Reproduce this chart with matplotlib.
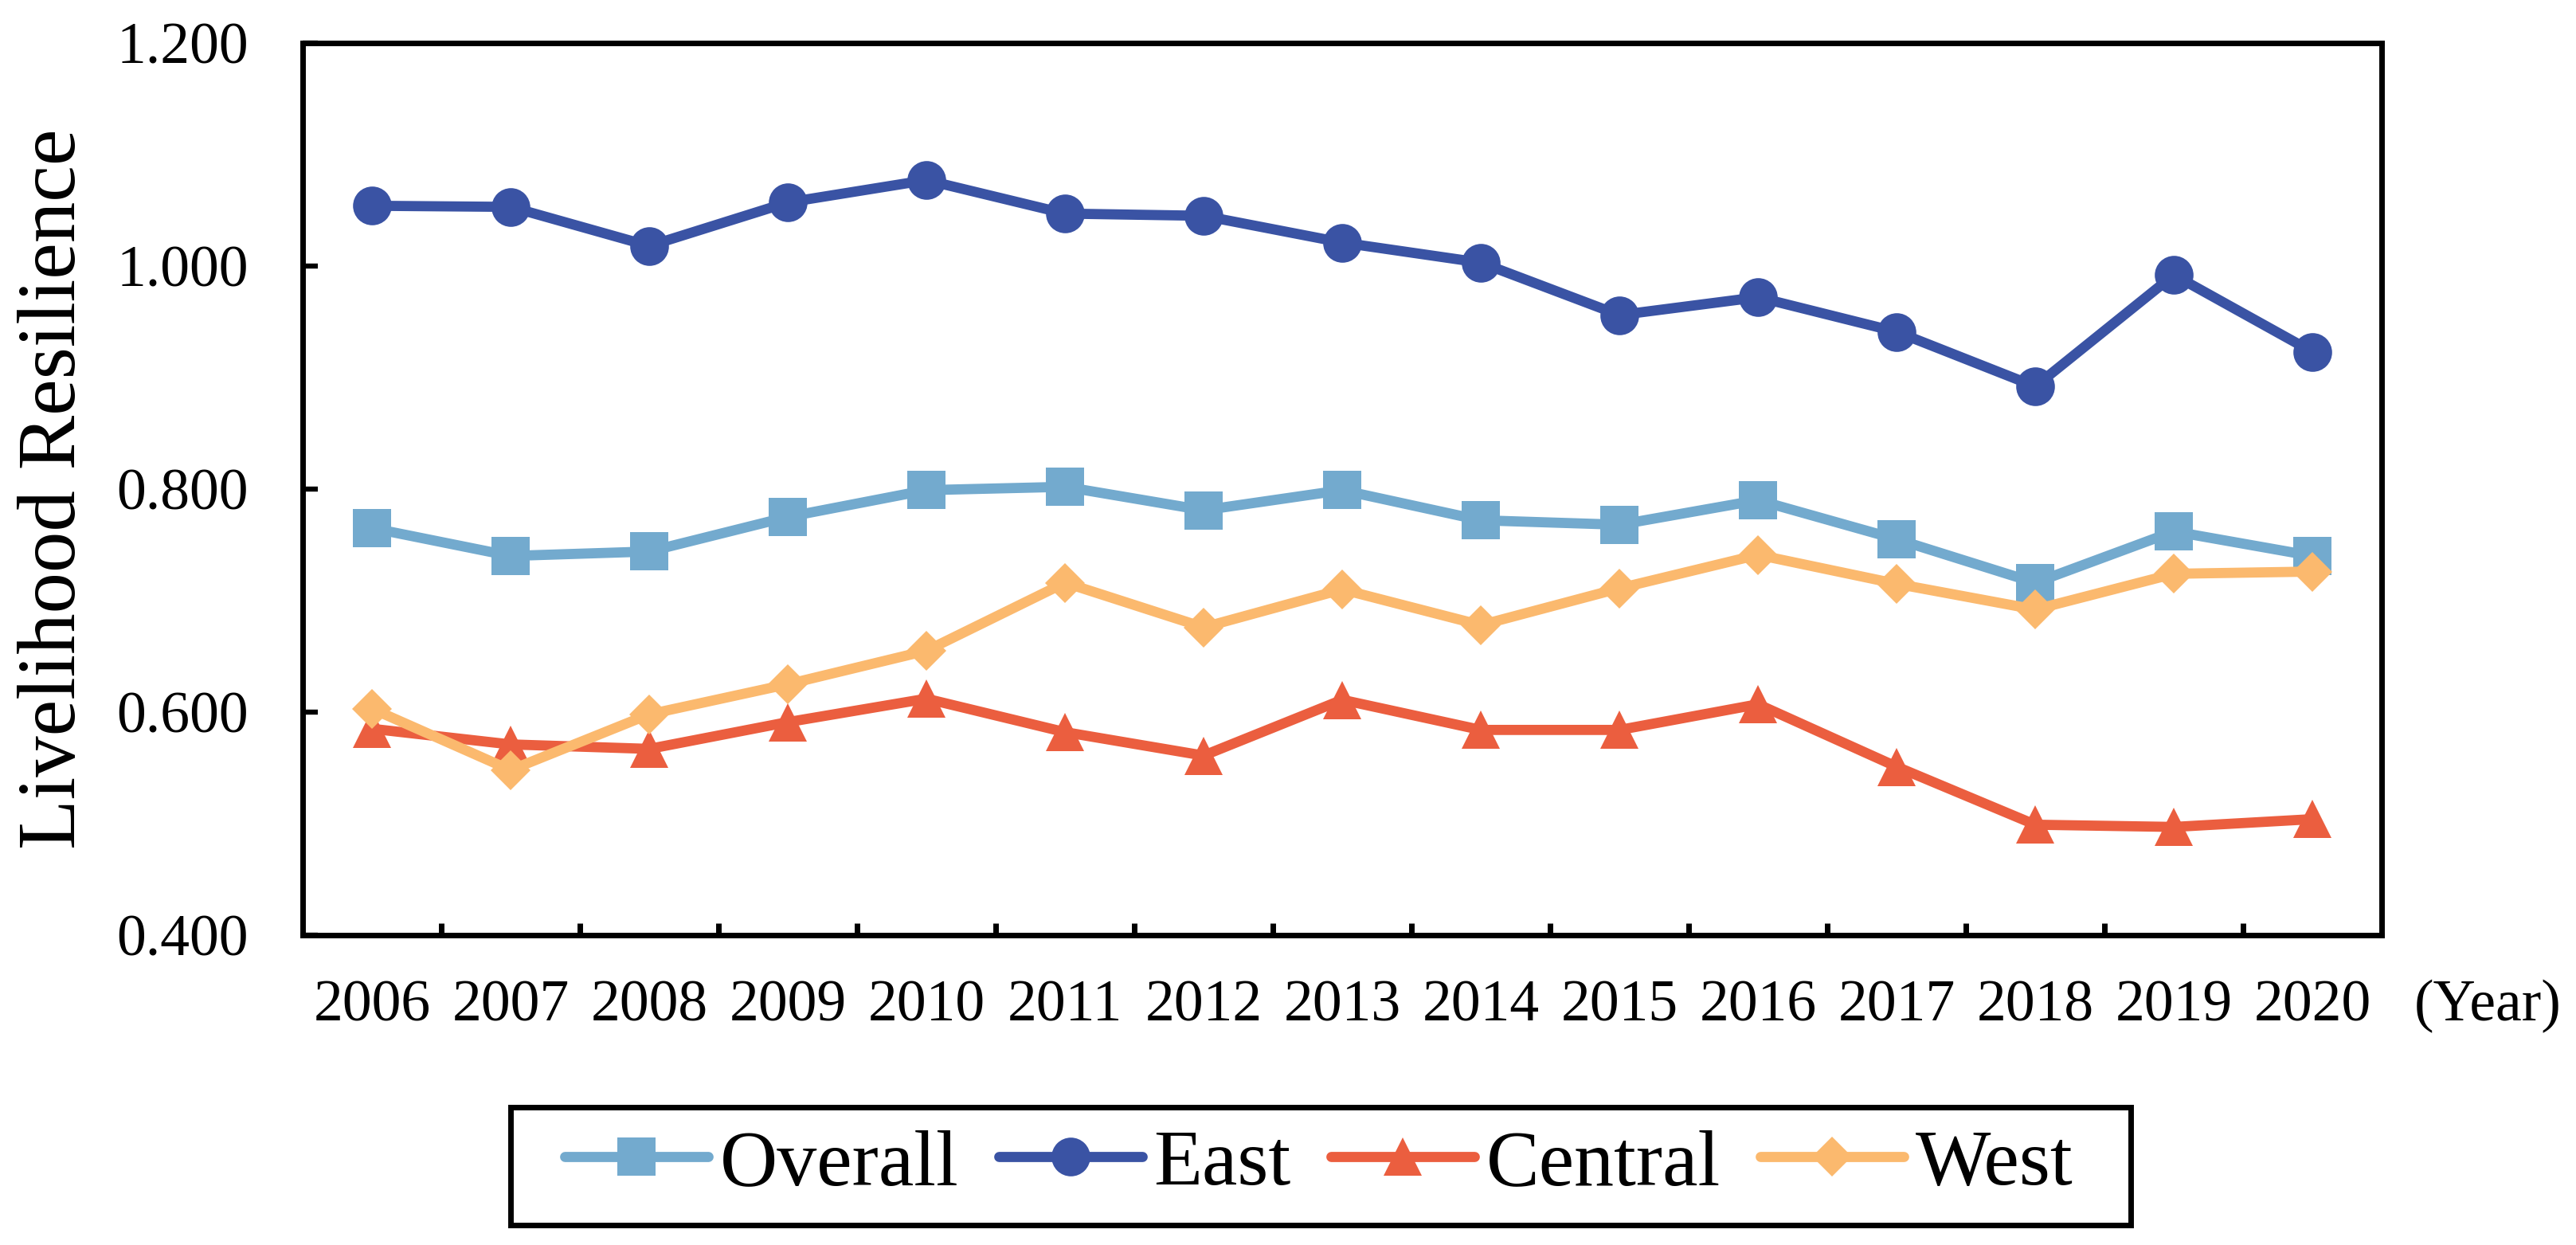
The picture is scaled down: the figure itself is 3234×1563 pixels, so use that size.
import numpy as np
import matplotlib
matplotlib.use('Agg')
import matplotlib.pyplot as plt
import matplotlib.patches as patches
from matplotlib.ticker import FixedLocator, FormatStrFormatter

plt.rcParams['font.family'] = ['Liberation Serif', 'DejaVu Serif']

# values
years = ['2006', '2007', '2008', '2009', '2010', '2011', '2012', '2013',
         '2014', '2015', '2016', '2017', '2018', '2019', '2020']
overall = [0.765, 0.740, 0.744, 0.775, 0.799, 0.802, 0.781, 0.799,
           0.772, 0.768, 0.790, 0.755, 0.716, 0.762, 0.740]
east = [1.054, 1.053, 1.018, 1.057, 1.077, 1.047, 1.045, 1.021,
        1.003, 0.956, 0.972, 0.941, 0.892, 0.992, 0.923]
central = [0.585, 0.571, 0.567, 0.591, 0.612, 0.582, 0.561, 0.611,
           0.584, 0.584, 0.607, 0.551, 0.499, 0.497, 0.504]
west = [0.603, 0.548, 0.598, 0.625, 0.655, 0.716, 0.676, 0.710,
        0.678, 0.711, 0.741, 0.715, 0.692, 0.724, 0.726]

series = [('Overall', overall, '#73AACE', 's', 17),
          ('East', east, '#3A53A4', 'o', 17.5),
          ('Central', central, '#EB5E3F', '^', 17),
          ('West', west, '#FBB96E', 'D', 12.7)]

tick_fs = 26.5
xpad = 20

fig = plt.figure(figsize=(16.17, 7.815), dpi=200)
ax = fig.add_axes([0.1175, 0.2489, 0.8071, 0.7166])

x = np.arange(len(years))
for name, vals, col, mk, ms in series:
    ax.plot(x, vals, color=col, lw=4.6, marker=mk, markersize=ms,
            markeredgewidth=0, label=name,
            solid_joinstyle='round', solid_capstyle='round')

ax.set_xlim(-0.5, len(years) - 0.5)
ax.set_ylim(0.4, 1.2)
ax.set_xticks(x)
ax.set_xticklabels(years)
# category axis: short ticks sit between the years
ax.xaxis.set_minor_locator(FixedLocator(np.arange(len(years) - 1) + 0.5))
ax.set_yticks([0.4, 0.6, 0.8, 1.0, 1.2])
ax.yaxis.set_major_formatter(FormatStrFormatter('%.3f'))

for s in ax.spines.values():
    s.set_linewidth(2.5)
ax.tick_params(axis='x', which='major', length=0, pad=xpad, labelsize=tick_fs)
ax.tick_params(axis='x', which='minor', length=5.5, width=2.5, direction='in')
ax.tick_params(axis='y', length=7, width=2.3, direction='in', pad=24.5,
               labelsize=tick_fs)

ax.set_ylabel('Livelihood Resilience', fontsize=37)
ax.yaxis.label.set_va('center')
ax.yaxis.set_label_coords(-0.119, 0.5)

ax.text(1.0155, 0.0, '(Year)', fontsize=tick_fs, ha='left', va='top',
        transform=ax.transAxes + matplotlib.transforms.ScaledTranslation(
            0, -xpad / 72, fig.dpi_scale_trans))

leg = fig.legend(loc='center', bbox_to_anchor=(0.512, 0.064), ncol=4,
                 frameon=False, fontsize=36, handlelength=1.8,
                 handletextpad=0.15, columnspacing=0.5, borderpad=0.2)

# legend box drawn separately so its padding can differ from the text spacing
box = patches.Rectangle((641 / 3234, 1 - 1538 / 1563), 2034 / 3234, 148 / 1563,
                        transform=fig.transFigure, fill=False,
                        edgecolor='black', linewidth=2.5)
fig.patches.append(box)

fig.savefig('out.png', dpi=200)
